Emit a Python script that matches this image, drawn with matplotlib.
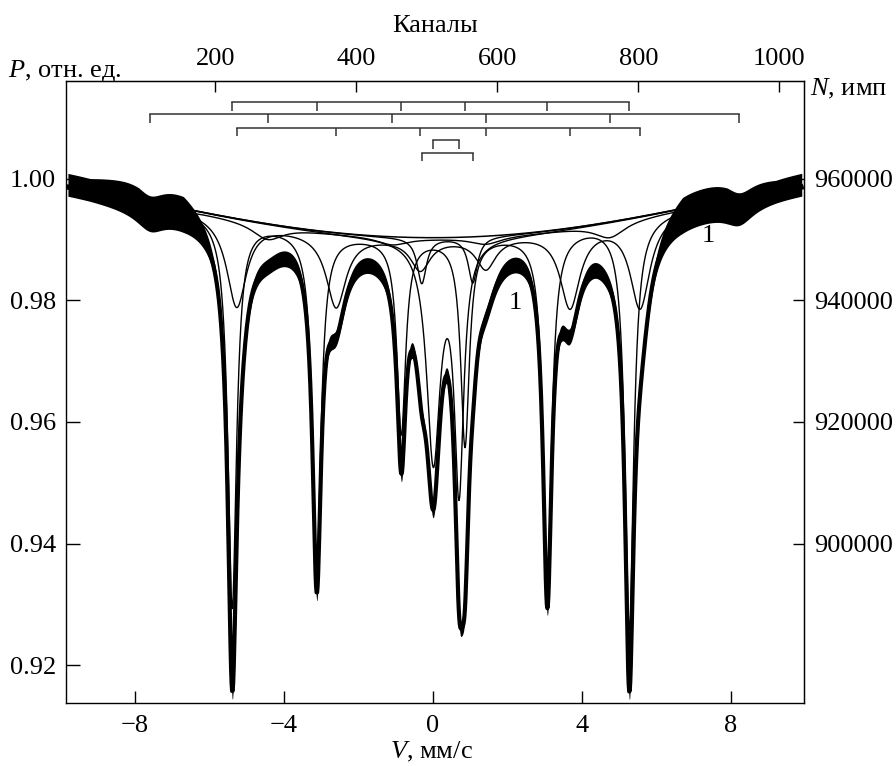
import numpy as np
import matplotlib.pyplot as plt

plt.rcParams['font.family'] = ['Liberation Serif', 'DejaVu Serif']
plt.rcParams['mathtext.fontset'] = 'custom'
plt.rcParams['mathtext.rm'] = 'Liberation Serif'
plt.rcParams['mathtext.it'] = 'Liberation Serif:italic'
plt.rcParams['font.size'] = 19

# --- fitted spectrum parameters (V in mm/s) ---
baseline_coef = [0.9903, 1.226e-4, -3.43e-7]      # P0, v^2 term, v^4 term

# sextet 1 (sharp, top stick row)
s1_pos = [-5.39, -3.12, -0.85, 0.86, 3.07, 5.27]
s1_depth = [0.064, 0.0547, 0.032, 0.034, 0.0575, 0.0674]
s1_hwhm = [0.14, 0.14, 0.14, 0.14, 0.14, 0.14]

# sextet 2 (weak, wide, second row)
s2_pos = [-7.60, -4.44, -1.09, 1.42, 4.75, 8.22]
s2_depth = [0.0025, 0.0025, 0.0012, 0.0012, 0.0025, 0.0025]
s2_hwhm = [0.45, 0.5, 0.5, 0.5, 0.5, 0.45]

# sextet 3 (broad, third row)
s3_pos = [-5.27, -2.60, -0.34, 1.42, 3.68, 5.56]
s3_depth = [0.0144, 0.012, 0.005, 0.005, 0.0128, 0.0148]
s3_hwhm = [0.32, 0.32, 0.32, 0.32, 0.32, 0.32]

# doublets
d1_pos = [0.01, 0.70]
d1_depth = [0.036, 0.040]
d1_hwhm = [0.22, 0.15]

d2_pos = [-0.30, 1.07]
d2_depth = [0.0075, 0.0075]
d2_hwhm = [0.15, 0.15]

x_ticks = [-8, -4, 0, 4, 8]
y_ticks = [0.92, 0.94, 0.96, 0.98, 1.00]
chan_ticks = [200, 400, 600, 800, 1000]
count_ticks = [900000, 920000, 940000, 960000]


def absorption(v, pos, depth, hwhm):
    out = np.zeros_like(v)
    for p, d, w in zip(pos, depth, hwhm):
        out += d / (1 + ((v - p) / w) ** 2)
    return out


v = np.linspace(-9.80, 9.90, 1400)
base = baseline_coef[0] + baseline_coef[1] * v**2 + baseline_coef[2] * v**4

components = [
    (s1_pos, s1_depth, s1_hwhm),
    (s2_pos, s2_depth, s2_hwhm),
    (s3_pos, s3_depth, s3_hwhm),
    (d1_pos, d1_depth, d1_hwhm),
    (d2_pos, d2_depth, d2_hwhm),
]
sub = [absorption(v, *c) for c in components]
total = base - sum(sub)

fig = plt.figure(figsize=(8.96, 7.66), dpi=100)
ax = fig.add_axes([66 / 896, 1 - 702.7 / 766, (804 - 66) / 896, (702.7 - 81) / 766])

# measured points: thick band, noisier (wider) in the wings
av = np.abs(v)
ramp = np.clip((av - 5.9) / 0.8, 0, 1) * np.clip((9.9 - av) / 2.0, 0.35, 1)
ax.fill_between(v, total - (0.0013 + 0.0003 * ramp), total + (0.0013 + 0.0030 * ramp),
                color='k', lw=0)
ax.plot(v, total, color='k', lw=3.0)

# baseline and sub-spectra
ax.plot(v, base, color='k', lw=1.1)
for s in sub:
    ax.plot(v, base - s, color='k', lw=1.0)

# stick diagrams above the spectrum
stick_rows = [(s1_pos, 1.01261), (s2_pos, 1.01059), (s3_pos, 1.00838),
              (d1_pos, 1.00631), (d2_pos, 1.00427)]
for pos, yb in stick_rows:
    ax.plot([pos[0], pos[-1]], [yb, yb], color='#333333', lw=1.1)
    ax.vlines(pos, yb - 0.0014, yb, color='#333333', lw=1.1)

ax.text(2.2, 0.9795, '1', ha='center', va='center')
ax.text(7.38, 0.9905, '1', ha='center', va='center')

ax.set_xlim(-9.852, 9.960)
ax.set_ylim(0.91385, 1.01606)
ax.set_xticks(x_ticks)
ax.set_yticks(y_ticks)
ax.set_yticklabels([f'{t:.2f}' for t in y_ticks])
ax.tick_params(axis='x', direction='in', length=9, width=1, pad=9)
ax.tick_params(axis='y', direction='in', length=10, width=1, pad=7)
for sp in ax.spines.values():
    sp.set_linewidth(1.0)

top = ax.secondary_xaxis('top', functions=(lambda x: 508.8 + 52.84 * x,
                                           lambda c: (c - 508.8) / 52.84))
top.set_xticks(chan_ticks)
top.tick_params(direction='in', length=8, width=1, pad=8)

right = ax.secondary_yaxis('right', functions=(lambda p: 960000 + (p - 1) * 1e6,
                                               lambda n: 1 + (n - 960000) / 1e6))
right.set_yticks(count_ticks, labels=[str(t) for t in count_ticks])
right.tick_params(direction='in', length=8, width=1, pad=7)

fig.text(8 / 896, 1 - 77 / 766, '$P$, отн. ед.', ha='left', va='baseline')
fig.text(810 / 896, 1 - 95 / 766, '$N$, имп', ha='left', va='baseline')
fig.text(435 / 896, 1 - 31.5 / 766, 'Каналы', ha='center', va='baseline')
fig.text(431 / 896, 1 - 758 / 766, '$V$, мм/с', ha='center', va='baseline')

fig.savefig('out.png', dpi=100)
